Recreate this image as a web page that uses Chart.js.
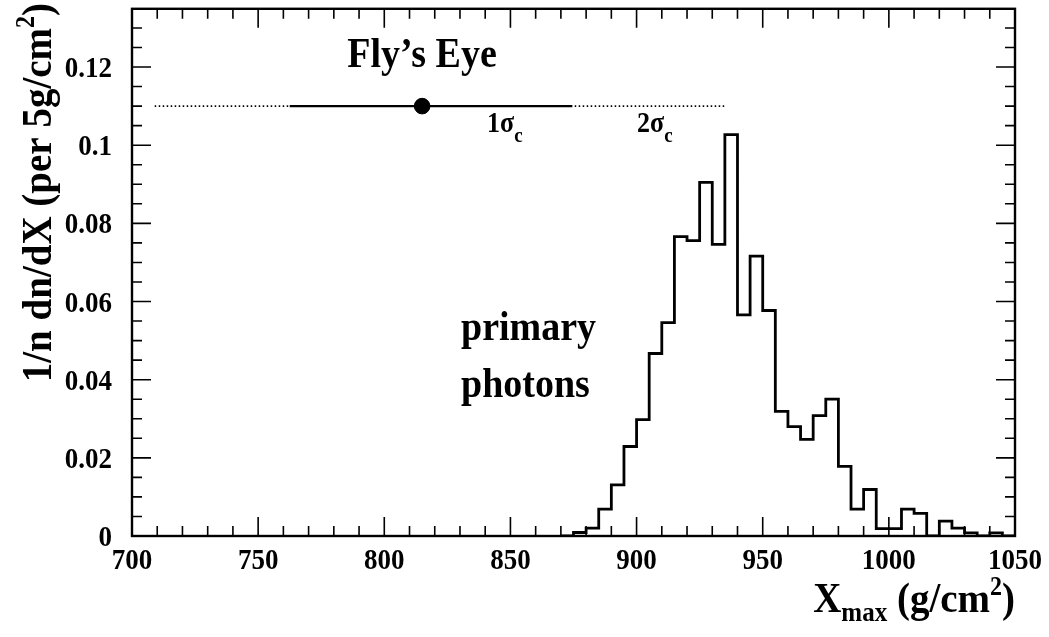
<!DOCTYPE html>
<html>
<head>
<meta charset="utf-8">
<script src="https://cdn.jsdelivr.net/npm/chart.js@4/dist/chart.umd.min.js"></script>
<style>
  html, body { margin: 0; padding: 0; background: #fff; }
  #wrap { width: 1049px; height: 637px; }
</style>
</head>
<body>
<div id="wrap"><canvas id="c" width="1049" height="637"></canvas></div>
<script>
/* ── Data ── */
// lower edges of the 5 g/cm2 bins that hold entries
const binEdges = [870, 875, 880, 885, 890, 895, 900, 905, 910, 915, 920, 925, 930, 935, 940, 945, 950, 955,
                  960, 965, 970, 975, 980, 985, 990, 995, 1000, 1005, 1010, 1015, 1020, 1025, 1030, 1035, 1040, 1045, 1050];
const photonFrac = [0, 0.0009, 0.002, 0.0069, 0.0131, 0.0229, 0.0298, 0.0467, 0.0546, 0.0766, 0.0756, 0.0905,
                    0.0746, 0.1027, 0.0566, 0.0716, 0.0577, 0.0319, 0.028, 0.0247, 0.0308, 0.035, 0.0178, 0.0069,
                    0.0119, 0.0019, 0.0019, 0.0069, 0.0058, 0, 0.0038, 0.002, 0.0008, 0, 0.0008, 0, 0];

// Fly's Eye measurement: mean, 1 sigma range, 2 sigma range
const flysEyeMean = 815;
const flysEyeY = 0.11;
const flysEye1s = [762.5, 874.5];
const flysEye2s = [709, 935];

const xTicks = [700, 750, 800, 850, 900, 950, 1000, 1050];
const yTicks = [0, 0.02, 0.04, 0.06, 0.08, 0.1, 0.12];

const FONT = '"Liberation Serif", "DejaVu Serif", serif';
const STRETCH = 1.1;   // the original lettering is a bit taller than wide

/* ── text helpers ── */
function txt(ctx, s, x, y, size, align = 'left') {
  ctx.save();
  ctx.font = `bold ${size}px ${FONT}`;
  ctx.textAlign = align;
  ctx.textBaseline = 'alphabetic';
  ctx.translate(x, y);
  ctx.scale(1, STRETCH);
  ctx.fillText(s, 0, 0);
  ctx.restore();
}

// parts: [text, size, dy]; draws ending at x (right aligned) or starting at x
function rich(ctx, parts, x, y, alignRight) {
  let total = 0;
  parts.forEach(p => { ctx.font = `bold ${p[1]}px ${FONT}`; total += ctx.measureText(p[0]).width; });
  let cx = alignRight ? x - total : x;
  parts.forEach(p => {
    txt(ctx, p[0], cx, y + p[2], p[1]);
    ctx.font = `bold ${p[1]}px ${FONT}`;
    cx += ctx.measureText(p[0]).width;
  });
}

/* ── Frame, inward ticks and all lettering, ROOT style ── */
const framePlugin = {
  id: 'frame',
  afterDraw(chart) {
    const { ctx, chartArea: a, scales: { x, y } } = chart;
    ctx.save();
    ctx.strokeStyle = '#000';
    ctx.fillStyle = '#000';
    ctx.lineWidth = 1.6;
    ctx.beginPath();
    for (let v = 700; v <= 1050; v += 10) {
      const px = x.getPixelForValue(v);
      const len = v % 50 === 0 ? 19 : 10;
      ctx.moveTo(px, a.bottom); ctx.lineTo(px, a.bottom - len);
      ctx.moveTo(px, a.top); ctx.lineTo(px, a.top + len);
    }
    for (let i = 0; i <= 26; i++) {
      const py = y.getPixelForValue(i * 0.005);
      const len = i % 4 === 0 ? 19 : 10;
      ctx.moveTo(a.left, py); ctx.lineTo(a.left + len, py);
      ctx.moveTo(a.right, py); ctx.lineTo(a.right - len, py);
    }
    ctx.stroke();
    ctx.lineWidth = 2.4;
    ctx.strokeRect(a.left, a.top, a.right - a.left, a.bottom - a.top);

    // tick labels
    xTicks.forEach(v => txt(ctx, String(v), x.getPixelForValue(v), a.bottom + 33, 27, 'center'));
    yTicks.forEach(v => txt(ctx, String(v), a.left - 20, y.getPixelForValue(v) + 10, 27, 'right'));

    // Fly's Eye label and sigma marks
    txt(ctx, 'Fly’s Eye', 422, 67, 38, 'center');
    rich(ctx, [['1σ', 26, 0], ['c', 19, 10]], 487, 132, false);
    rich(ctx, [['2σ', 26, 0], ['c', 19, 10]], 637, 132, false);

    txt(ctx, 'primary', 461, 340, 38);
    txt(ctx, 'photons', 461, 397, 38);

    // x axis title, right aligned to the frame
    rich(ctx, [['X', 39, 0], ['max', 25, 9], [' (g/cm', 39, 0], ['2', 24, -17], [')', 39, 0]], a.right, 612, true);

    // y axis title, rotated, right aligned at the top
    ctx.translate(51, 3);
    ctx.rotate(-Math.PI / 2);
    rich(ctx, [['1/n dn/dX (per 5g/cm', 39, 0], ['2', 24, -17], [')', 39, 0]], 0, 0, true);
    ctx.restore();
  }
};

new Chart(document.getElementById('c'), {
  type: 'line',
  data: {
    datasets: [
      {
        label: 'primary photons',
        data: binEdges.map((e, i) => ({ x: e, y: photonFrac[i] })),
        stepped: true,
        borderColor: '#000', borderWidth: 2.8, pointRadius: 0, fill: false
      },
      {
        label: '2 sigma',
        data: flysEye2s.map(v => ({ x: v, y: flysEyeY })),
        borderColor: '#000', borderWidth: 1.8, borderDash: [1.5, 2.5], pointRadius: 0
      },
      {
        label: '1 sigma',
        data: flysEye1s.map(v => ({ x: v, y: flysEyeY })),
        borderColor: '#000', borderWidth: 2.4, pointRadius: 0
      },
      {
        label: "Fly's Eye",
        data: [{ x: flysEyeMean, y: flysEyeY }],
        showLine: false, pointRadius: 7.8, pointBackgroundColor: '#000', pointBorderColor: '#000'
      }
    ]
  },
  options: {
    responsive: false,
    animation: false,
    layout: { padding: { top: 1, right: 34, left: 0, bottom: 0 } },
    plugins: { legend: { display: false }, tooltip: { enabled: false } },
    scales: {
      x: {
        type: 'linear', min: 700, max: 1050,
        afterBuildTicks: s => { s.ticks = xTicks.map(v => ({ value: v })); },
        afterFit: s => { s.height = 101; },
        grid: { display: false },
        border: { display: false },
        ticks: { display: false }
      },
      y: {
        type: 'linear', min: 0, max: 0.1349,
        afterBuildTicks: s => { s.ticks = yTicks.map(v => ({ value: v })); },
        afterFit: s => { s.width = 132; },
        grid: { display: false },
        border: { display: false },
        ticks: { display: false }
      }
    }
  },
  plugins: [framePlugin]
});
</script>
</body>
</html>
